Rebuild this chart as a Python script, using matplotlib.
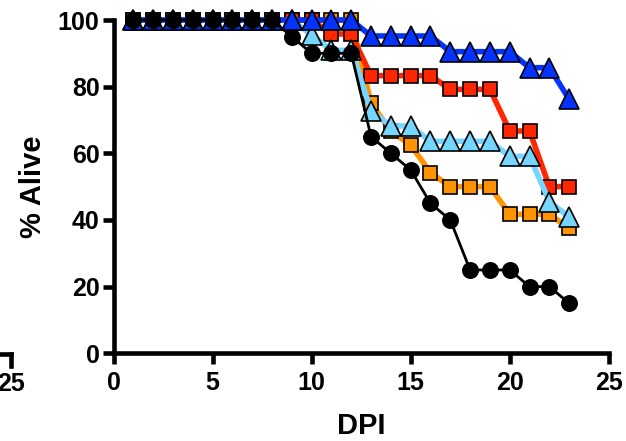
import matplotlib
matplotlib.use("Agg")
import matplotlib.pyplot as plt
from matplotlib.lines import Line2D

plt.rcParams['font.family'] = ['Liberation Sans', 'DejaVu Sans']
plt.rcParams['font.weight'] = 'bold'

days = list(range(1, 24))
dark_blue = [100]*12 + [95.2]*4 + [90.5]*4 + [85.7]*2 + [76.2]
red = [100]*10 + [95.8]*2 + [83.3]*4 + [79.2]*3 + [66.7]*2 + [50.0]*2
orange = [100]*12 + [75.0, 66.7, 62.5, 54.2] + [50.0]*3 + [41.7]*3 + [37.5]
light_blue = [100]*9 + [95.5, 90.9, 90.9, 72.7, 68.2, 68.2] + [63.6]*4 + [59.1]*2 + [45.5, 40.9]
black = [100]*8 + [95, 90, 90, 90, 65, 60, 55, 45, 40, 25, 25, 25, 20, 20, 15]

x_ticks = [0, 5, 10, 15, 20, 25]
y_ticks = [0, 20, 40, 60, 80, 100]

W, H = 626, 441
fig = plt.figure(figsize=(W/100, H/100), dpi=100)
ax = fig.add_axes([113.5/W, 1-353.3/H, (608.8-113.5)/W, (353.3-20)/H])

series = [
    (orange, '#FF9300', 's', 9.5, 4.0),
    (red, '#FF2600', 's', 9.5, 4.0),
    (light_blue, '#76D6FF', '^', 14.5, 4.0),
    (dark_blue, '#0433FF', '^', 14.5, 4.0),
    (black, '#000000', 'o', 11, 2.0),
]
for z, (vals, col, mk, ms, lw) in enumerate(series):
    ax.plot(days, vals, color=col, lw=lw, marker=mk, ms=ms, mfc=col,
            mec='black', mew=1.2, clip_on=False, zorder=3+z)

ax.set_xlim(0, 25)
ax.set_ylim(0, 100)
ax.set_xticks(x_ticks)
ax.set_yticks(y_ticks)
for s in ['top', 'right']:
    ax.spines[s].set_visible(False)
for s in ['left', 'bottom']:
    ax.spines[s].set_linewidth(3.3)
ax.tick_params(width=3.3, length=8, labelsize=18)
ax.tick_params(axis='x', pad=5)
ax.tick_params(axis='y', pad=2)
for lab in ax.get_xticklabels() + ax.get_yticklabels():
    lab.set_fontweight('bold')
ax.set_xlabel('DPI', fontsize=21, fontweight='bold', labelpad=12)
ax.set_ylabel('% Alive', fontsize=21, fontweight='bold', labelpad=8)

# remnant of neighbouring panel at left edge
fig.text(11.3/W, 1-384/H, '25', fontsize=18, fontweight='bold', ha='center', va='center')
fig.add_artist(Line2D([0, 11.3/W], [1-354/H, 1-354/H], color='black', lw=3.3,
                      transform=fig.transFigure, solid_capstyle='projecting'))
fig.add_artist(Line2D([11.3/W, 11.3/W], [1-354/H, 1-366/H], color='black', lw=3.3,
                      transform=fig.transFigure))

fig.savefig('out.png', dpi=100)
